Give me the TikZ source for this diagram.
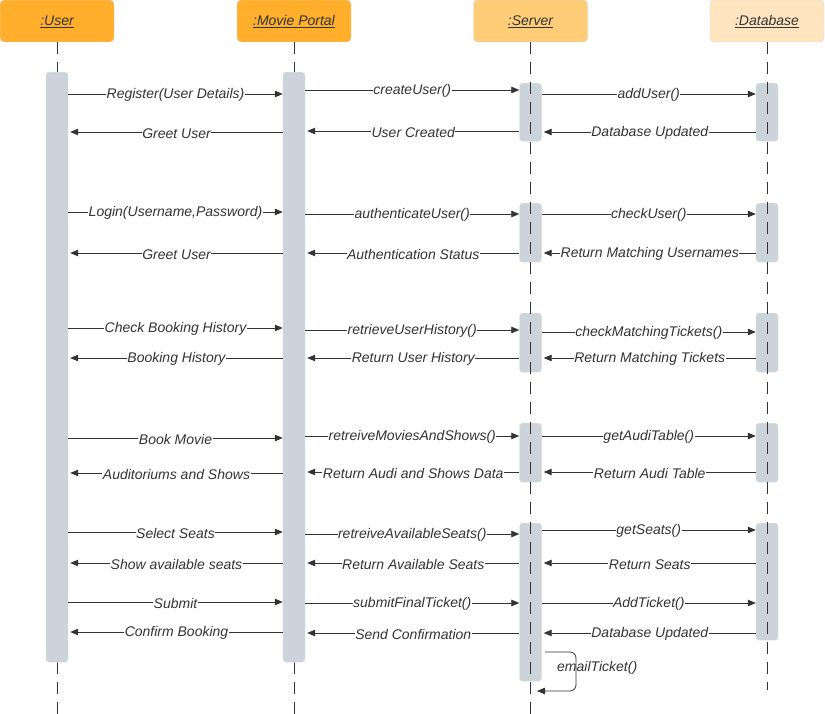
\documentclass[tikz,border=0pt]{standalone}
\usepackage{fontspec}
\setmainfont{Liberation Sans}
\usetikzlibrary{arrows.meta}
\definecolor{txt}{HTML}{333333}
\definecolor{hA}{HTML}{FFAF2C}
\definecolor{hB}{HTML}{FFCC78}
\definecolor{hC}{HTML}{FFE5BF}
\definecolor{barc}{HTML}{CDD3DB}
\newcommand\hdrtext[1]{\raisebox{-5pt}[0pt][0pt]{\underline{#1}}}
\tikzset{
  hdr/.style={draw=white!85!black, rounded corners=4pt, minimum width=114pt, minimum height=42pt, text=txt, font=\fontsize{14}{16}\selectfont\itshape},
  actbar/.style={draw=barc!70!white, fill=barc, rounded corners=3pt, minimum width=22pt, anchor=north, inner sep=0pt},
  life/.style={draw=txt, line width=0.8pt, dash pattern=on 12pt off 8pt},
  msg/.style={draw=txt, line width=0.8pt, -{Triangle[width=6.5pt,length=8pt]}},
  lbl/.style={fill=white, inner sep=0.5pt, text=txt, font=\fontsize{14}{16}\selectfont\itshape, midway, yshift=-1.2pt}
}
\begin{document}
\begin{tikzpicture}[x=1pt,y=-1pt]
\useasboundingbox (0,0) rectangle (825,714);
% headers
\node[hdr, fill=hA] (hU) at (57,21) {\hdrtext{:User}};
\node[hdr, fill=hA] (hM) at (294,21) {\hdrtext{:Movie Portal}};
\node[hdr, fill=hB] (hS) at (530.5,21) {\hdrtext{:Server}};
\node[hdr, fill=hC] (hD) at (767,21) {\hdrtext{:Database}};
\coordinate (eU) at (57,714);
\coordinate (eM) at (294,714);
\coordinate (eS) at (530.5,714);
\coordinate (eD) at (767,690);
\draw[life] (hU) -- (eU);
\draw[life] (hM) -- (eM);
% activation bars
\node[actbar, minimum height=590pt] (u1) at (57,72) {};
\node[actbar, minimum height=590pt] (m1) at (294,72) {};
\node[actbar, minimum height=58pt] (s1) at (530.5,83) {};
\node[actbar, minimum height=59pt] (s2) at (530.5,203) {};
\node[actbar, minimum height=59pt] (s3) at (530.5,313) {};
\node[actbar, minimum height=59pt] (s4) at (530.5,423) {};
\node[actbar, minimum height=158pt] (s5) at (530.5,523) {};
\node[actbar, minimum height=58pt] (d1) at (767,83) {};
\node[actbar, minimum height=59pt] (d2) at (767,203) {};
\node[actbar, minimum height=59pt] (d3) at (767,313) {};
\node[actbar, minimum height=59pt] (d4) at (767,423) {};
\node[actbar, minimum height=117pt] (d5) at (767,523) {};
\draw[life] (hS) -- (eS);
\draw[life] (hD) -- (eD);
% group 1
\draw[msg] (u1.east |- 0,94) -- node[lbl]{Register(User Details)} (m1.west |- 0,94);
\draw[msg] (m1.east |- 0,90) -- node[lbl]{createUser()} (s1.west |- 0,90);
\draw[msg] (s1.east |- 0,94) -- node[lbl]{addUser()} (d1.west |- 0,94);
\draw[msg] (m1.west |- 0,132) -- node[lbl]{Greet User} ([xshift=2pt]u1.east |- 0,132);
\draw[msg] (s1.west |- 0,131) -- node[lbl]{User Created} ([xshift=2pt]m1.east |- 0,131);
\draw[msg] (d1.west |- 0,132) -- node[lbl]{Database Updated} ([xshift=2pt]s1.east |- 0,132);
% group 2
\draw[msg] (u1.east |- 0,212) -- node[lbl]{Login(Username,Password)} (m1.west |- 0,212);
\draw[msg] (m1.east |- 0,214) -- node[lbl]{authenticateUser()} (s2.west |- 0,214);
\draw[msg] (s2.east |- 0,214) -- node[lbl]{checkUser()} (d2.west |- 0,214);
\draw[msg] (m1.west |- 0,253) -- node[lbl]{Greet User } ([xshift=2pt]u1.east |- 0,253);
\draw[msg] (s2.west |- 0,253) -- node[lbl]{Authentication Status} ([xshift=2pt]m1.east |- 0,253);
\draw[msg] (d2.west |- 0,253) -- node[lbl]{Return Matching Usernames} ([xshift=2pt]s2.east |- 0,253);
% group 3
\draw[msg] (u1.east |- 0,328) -- node[lbl]{Check Booking History} (m1.west |- 0,328);
\draw[msg] (m1.east |- 0,330) -- node[lbl]{retrieveUserHistory()} (s3.west |- 0,330);
\draw[msg] (s3.east |- 0,332) -- node[lbl]{checkMatchingTickets()} (d3.west |- 0,332);
\draw[msg] (m1.west |- 0,358) -- node[lbl]{Booking History} ([xshift=2pt]u1.east |- 0,358);
\draw[msg] (s3.west |- 0,358) -- node[lbl]{Return User History} ([xshift=2pt]m1.east |- 0,358);
\draw[msg] (d3.west |- 0,358) -- node[lbl]{Return Matching Tickets} ([xshift=2pt]s3.east |- 0,358);
% group 4
\draw[msg] (u1.east |- 0,438) -- node[lbl]{Book Movie} (m1.west |- 0,438);
\draw[msg] (m1.east |- 0,436) -- node[lbl]{retreiveMoviesAndShows()} (s4.west |- 0,436);
\draw[msg] (s4.east |- 0,436) -- node[lbl]{getAudiTable()} (d4.west |- 0,436);
\draw[msg] (m1.west |- 0,473) -- node[lbl]{Auditoriums and Shows} ([xshift=2pt]u1.east |- 0,473);
\draw[msg] (s4.west |- 0,472) -- node[lbl]{Return Audi and Shows Data} ([xshift=2pt]m1.east |- 0,472);
\draw[msg] (d4.west |- 0,472) -- node[lbl]{Return Audi Table} ([xshift=2pt]s4.east |- 0,472);
% group 5
\draw[msg] (u1.east |- 0,532) -- node[lbl]{Select Seats} (m1.west |- 0,532);
\draw[msg] (m1.east |- 0,534) -- node[lbl]{retreiveAvailableSeats()} (s5.west |- 0,534);
\draw[msg] (s5.east |- 0,530) -- node[lbl]{getSeats()} (d5.west |- 0,530);
\draw[msg] (m1.west |- 0,563) -- node[lbl]{Show available seats} ([xshift=2pt]u1.east |- 0,563);
\draw[msg] (s5.west |- 0,563) -- node[lbl]{Return Available Seats} ([xshift=2pt]m1.east |- 0,563);
\draw[msg] (d5.west |- 0,563) -- node[lbl]{Return Seats} ([xshift=2pt]s5.east |- 0,563);
% group 6
\draw[msg] (u1.east |- 0,602) -- node[lbl]{Submit} (m1.west |- 0,602);
\draw[msg] (m1.east |- 0,603) -- node[lbl]{submitFinalTicket()} (s5.west |- 0,603);
\draw[msg] (s5.east |- 0,603) -- node[lbl]{AddTicket()} (d5.west |- 0,603);
\draw[msg] (m1.west |- 0,632) -- node[lbl]{Confirm Booking} ([xshift=2pt]u1.east |- 0,632);
\draw[msg] (s5.west |- 0,633) -- node[lbl]{Send Confirmation} ([xshift=2pt]m1.east |- 0,633);
\draw[msg] (d5.west |- 0,633) -- node[lbl]{Database Updated} ([xshift=2pt]s5.east |- 0,633);
% self message
\coordinate (sl) at (545,652);
\coordinate (sr) at (537,691);
\draw[msg, rounded corners=6pt] (sl) -- (576,652) -- (576,691) -- (sr);
\node[anchor=west, inner sep=0pt, text=txt, font=\fontsize{14}{16}\selectfont\itshape] (et) at (557,668) {emailTicket()};
\end{tikzpicture}
\end{document}
